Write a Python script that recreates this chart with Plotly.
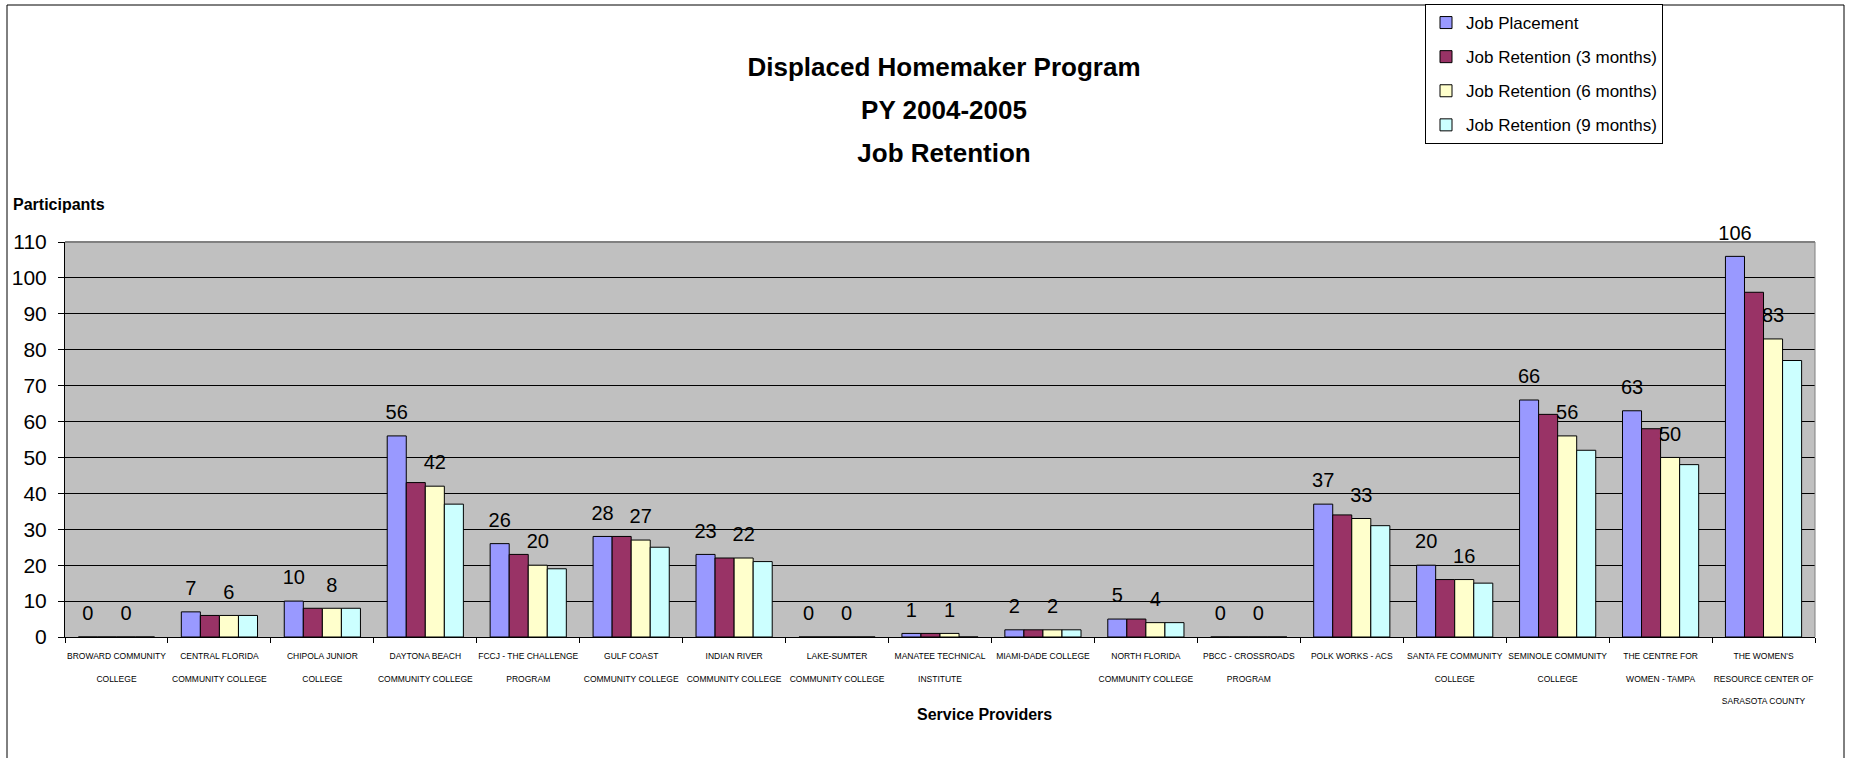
import plotly.graph_objects as go

categories = [
    "BROWARD COMMUNITY\nCOLLEGE",
    "CENTRAL FLORIDA\nCOMMUNITY COLLEGE",
    "CHIPOLA JUNIOR\nCOLLEGE",
    "DAYTONA BEACH\nCOMMUNITY COLLEGE",
    "FCCJ - THE CHALLENGE\nPROGRAM",
    "GULF COAST\nCOMMUNITY COLLEGE",
    "INDIAN RIVER\nCOMMUNITY COLLEGE",
    "LAKE-SUMTER\nCOMMUNITY COLLEGE",
    "MANATEE TECHNICAL\nINSTITUTE",
    "MIAMI-DADE COLLEGE",
    "NORTH FLORIDA\nCOMMUNITY COLLEGE",
    "PBCC - CROSSROADS\nPROGRAM",
    "POLK WORKS - ACS",
    "SANTA FE COMMUNITY\nCOLLEGE",
    "SEMINOLE COMMUNITY\nCOLLEGE",
    "THE CENTRE FOR\nWOMEN - TAMPA",
    "THE WOMEN'S\nRESOURCE CENTER OF\nSARASOTA COUNTY",
]

series_names = [
    "Job Placement",
    "Job Retention (3 months)",
    "Job Retention (6 months)",
    "Job Retention (9 months)",
]
job_placement = [0, 7, 10, 56, 26, 28, 23, 0, 1, 2, 5, 0, 37, 20, 66, 63, 106]
retention_3m = [0, 6, 8, 43, 23, 28, 22, 0, 1, 2, 5, 0, 34, 16, 62, 58, 96]
retention_6m = [0, 6, 8, 42, 20, 27, 22, 0, 1, 2, 4, 0, 33, 16, 56, 50, 83]
retention_9m = [0, 6, 8, 37, 19, 25, 21, 0, 0, 2, 4, 0, 31, 15, 52, 48, 77]
show_labels = [True, False, True, False]

y_ticks = list(range(0, 111, 10))

colors = ["#9999FF", "#993366", "#FFFFCC", "#CCFFFF"]
FONT = "Liberation Sans, Arial, sans-serif"

# the page body margin is removed in post_script, so the figure fills the window
OFF = 0
W, H = 1851 - OFF, 758 - OFF
# plot area in window coordinates
PL, PR, PT, PB = 65, 1815, 242, 637
L, R, T, B = PL - OFF, PR - OFF, PT - OFF, PB - OFF

x_keys = [c.replace("\n", " ") for c in categories]
tick_text = [
    "<br>".join('<span style="font-size:8.5px">%s</span>' % ln for ln in c.split("\n"))
    for c in categories
]


def label_text(v):
    # value in a 20px span, followed by an invisible spacer line that lifts the
    # label a little further above the bar top
    return ('<span style="font-size:20px">%s</span><br>'
            '<span style="color:rgba(0,0,0,0)">.</span>' % v)


fig = go.Figure()
all_series = [job_placement, retention_3m, retention_6m, retention_9m]
for i, (name, vals) in enumerate(zip(series_names, all_series)):
    fig.add_trace(go.Bar(
        name=name,
        x=x_keys,
        y=vals,
        legendgroup="g%d" % i,
        marker=dict(color=colors[i], line=dict(color="black", width=1)),
        text=[label_text(v) for v in vals] if show_labels[i] else None,
        textposition="outside" if show_labels[i] else "none",
        constraintext="none",
        textfont=dict(family=FONT, size=9, color="black"),
        cliponaxis=False,
        hovertemplate="%{x}<br>" + name + ": %{y}<extra></extra>",
    ))

pw = R - L
ph = B - T


def px(x):
    """window x -> paper x"""
    return (x - OFF - L) / pw


def py(y):
    """window y -> paper y"""
    return (B - (y - OFF)) / ph


fig.update_layout(
    width=W, height=H,
    margin=dict(l=L, r=W - R, t=T, b=H - B, autoexpand=False),
    paper_bgcolor="white",
    plot_bgcolor="#C0C0C0",
    barmode="group",
    bargap=0.26,
    bargroupgap=0,
    title=dict(
        text='<span style="font-size:26px">Displaced Homemaker Program</span><br>'
             '<span style="font-size:26px">PY 2004-2005</span><br>'
             '<span style="font-size:26px">Job Retention</span>',
        font=dict(family=FONT, size=33, color="black", weight="bold"),
        x=(944 - OFF) / W, xanchor="center", xref="container",
        y=1 - (76.4 - OFF) / H, yanchor="top", yref="container",
    ),
    legend=dict(
        x=px(1425), y=py(4), xanchor="left", yanchor="top",
        bgcolor="white", bordercolor="black", borderwidth=1,
        font=dict(family=FONT, size=17, color="black"),
        traceorder="grouped", tracegroupgap=9,
    ),
    xaxis=dict(
        type="category",
        tickmode="array", tickvals=x_keys, ticktext=tick_text,
        tickson="boundaries", ticks="outside", ticklen=5, tickcolor="black",
        tickangle=0,
        tickfont=dict(family=FONT, size=17, color="black"),
        ticklabelstandoff=1,
        showline=True, linecolor="black", linewidth=1,
        showgrid=False, zeroline=False,
    ),
    yaxis=dict(
        range=[0, 110],
        tickmode="array", tickvals=y_ticks,
        ticks="outside", ticklen=6, tickcolor="black",
        tickfont=dict(family=FONT, size=21, color="black"),
        ticklabelstandoff=7,
        showline=True, linecolor="black", linewidth=1,
        showgrid=True, gridcolor="black", gridwidth=1,
        zeroline=False,
    ),
    annotations=[
        dict(text="<b>Participants</b>", xref="paper", yref="paper",
             x=px(11), y=py(205), xanchor="left", yanchor="middle",
             showarrow=False, font=dict(family=FONT, size=16, color="black")),
        dict(text="<b>Service Providers</b>", xref="paper", yref="paper",
             x=px(984), y=py(714), xanchor="center", yanchor="middle",
             showarrow=False, font=dict(family=FONT, size=16, color="black")),
    ],
    shapes=[
        dict(type="rect", xref="paper", yref="paper",
             x0=px(7), x1=px(1844), y0=py(800), y1=py(5),
             line=dict(color="black", width=1), fillcolor="rgba(0,0,0,0)", layer="below"),
        dict(type="line", xref="paper", yref="paper", x0=0, x1=1, y0=1, y1=1,
             line=dict(color="#808080", width=2)),
        dict(type="line", xref="paper", yref="paper", x0=1, x1=1, y0=0, y1=1,
             line=dict(color="#808080", width=1)),
    ],
)

fig.write_html("out.html", config={"displayModeBar": False},
               post_script="document.body.style.margin='0';")
